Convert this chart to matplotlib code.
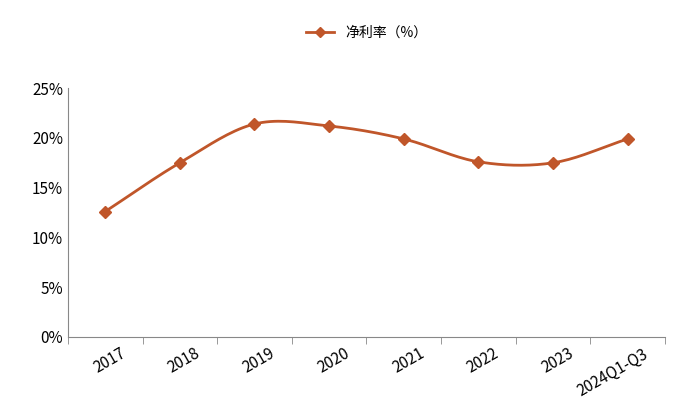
import numpy as np
import matplotlib
matplotlib.use('Agg')
import matplotlib.pyplot as plt
from matplotlib.ticker import PercentFormatter

plt.rcParams['font.family'] = ['Noto Sans CJK SC', 'DejaVu Sans']

years = ['2017', '2018', '2019', '2020', '2021', '2022', '2023', '2024Q1-Q3']
net_margin = [12.6, 17.5, 21.4, 21.2, 19.9, 17.6, 17.5, 19.9]

color = '#C0562A'

def smooth(x, y, n=20):
    # Catmull-Rom curve through the points, for the smoothed line only
    x = np.asarray(x, float); y = np.asarray(y, float)
    px = np.concatenate([[2*x[0]-x[1]], x, [2*x[-1]-x[-2]]])
    py = np.concatenate([[2*y[0]-y[1]], y, [2*y[-1]-y[-2]]])
    xs, ys = [], []
    t = np.linspace(0, 1, n)
    for i in range(1, len(px)-2):
        for p, out in ((px, xs), (py, ys)):
            p0, p1, p2, p3 = p[i-1], p[i], p[i+1], p[i+2]
            out.extend(0.5*((2*p1) + (-p0+p2)*t + (2*p0-5*p1+4*p2-p3)*t**2
                            + (-p0+3*p1-3*p2+p3)*t**3))
    return xs, ys

fig, ax = plt.subplots(figsize=(7, 4.2), dpi=100)
fig.subplots_adjust(left=0.097, right=0.95, top=0.79, bottom=0.198)

x = np.arange(len(years))
sx, sy = smooth(x, net_margin)
ax.plot(sx, sy, color=color, lw=2)
ax.plot(x, net_margin, ls='none', marker='D', ms=6, color=color)
ax.plot([], [], color=color, lw=2, marker='D', ms=5, label='净利率（%）')

ax.set_ylim(0, 25)
ax.set_xlim(-0.5, len(years)-0.5)
ax.yaxis.set_major_formatter(PercentFormatter(decimals=0))
ax.set_yticks(range(0, 26, 5))
ax.set_xticks(x + 0.2)
ax.set_xticklabels(years, rotation=30, fontsize=11, ha='right', rotation_mode='anchor')
ax.tick_params(axis='x', length=0, pad=6)
ax.set_xticks(np.arange(-0.5, len(years)), minor=True)
ax.tick_params(axis='x', which='minor', length=5, color='#888')
ax.tick_params(axis='y', length=0, labelsize=11)
for s in ['top', 'right']:
    ax.spines[s].set_visible(False)
for s in ['left', 'bottom']:
    ax.spines[s].set_color('#888')

ax.legend(loc='upper center', bbox_to_anchor=(0.5, 1.3), frameon=False, fontsize=10)

fig.savefig('out.png', dpi=100)
